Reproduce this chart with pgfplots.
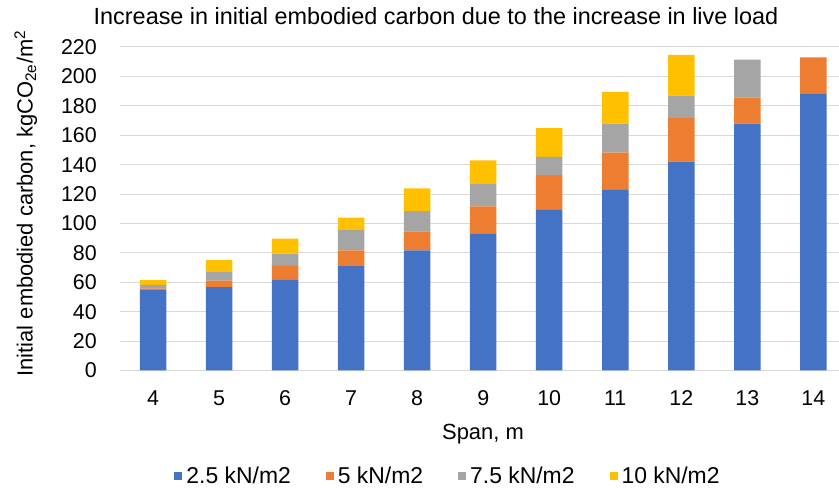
\documentclass[border=0pt]{standalone}
\usepackage{pgfplots}
\pgfplotsset{compat=1.18}
\usepackage{fontspec}
\setmainfont{Liberation Sans}
\definecolor{cBlue}{HTML}{4472C4}
\definecolor{cOrange}{HTML}{ED7D31}
\definecolor{cGray}{HTML}{A5A5A5}
\definecolor{cYellow}{HTML}{FFC000}
\definecolor{gridgray}{HTML}{D9D9D9}
\begin{document}
\begin{tikzpicture}[x=1bp,y=1bp]
\path[use as bounding box] (-120,-123.5) rectangle (719,370.5);
\begin{axis}[
  at={(0,0)}, anchor=south west,
  scale only axis, width=719.8bp, height=323.5bp,
  xmin=3.5, xmax=14.4, ymin=0, ymax=220,
  ybar stacked, bar width=26.5bp,
  xtick={4,5,6,7,8,9,10,11,12,13,14},
  ytick={0,20,...,220},
  axis line style={draw=none}, major tick length=0pt,
  ymajorgrids, grid style={color=gridgray, line width=1bp},
  tick label style={font=\fontsize{21.5}{25}\selectfont},
  /pgf/number format/assume math mode=true,
  xticklabel style={anchor=base, inner sep=0pt, yshift=-35.5bp},
  yticklabel style={anchor=east, inner sep=0pt, xshift=-23bp},
  legend columns=4,
  legend style={at={(0.4557,-0.326)}, anchor=center, draw=none, fill=none,
    font=\fontsize{23}{27}\selectfont, inner sep=0pt,
    /tikz/every even column/.append style={column sep=33bp}},
  legend image code/.code={\fill (0bp,-4bp) rectangle (8bp,4bp);},
]
\addplot[fill=cBlue, draw=none] coordinates {(4,54.6) (5,56.7) (6,61.9) (7,71.0) (8,81.7) (9,93.2) (10,109.3) (11,122.9) (12,142.0) (13,167.8) (14,188.5)};
\addplot[fill=cOrange, draw=none] coordinates {(4,1.2) (5,4.5) (6,9.3) (7,10.7) (8,12.9) (9,18.4) (10,23.6) (11,25.2) (12,29.7) (13,17.7) (14,24.5)};
\addplot[fill=cGray, draw=none] coordinates {(4,2.5) (5,6.2) (6,8.2) (7,13.8) (8,13.8) (9,15.2) (10,12.3) (11,19.7) (12,15.2) (13,25.9) (14,0)};
\addplot[fill=cYellow, draw=none] coordinates {(4,3.2) (5,7.7) (6,10.2) (7,8.4) (8,15.4) (9,16.1) (10,19.7) (11,21.6) (12,27.7) (13,0) (14,0)};
\legend{\hspace{2bp}2.5 kN/m2, \hspace{2bp}5 kN/m2, \hspace{2bp}7.5 kN/m2, \hspace{2bp}10 kN/m2}
\end{axis}
\node[anchor=base, font=\fontsize{23.5}{28}\selectfont] at (316,345.5) {Increase in initial embodied carbon due to the increase in live load};
\node[anchor=base, font=\fontsize{22}{26}\selectfont] at (363,-69.5) {Span, m};
\node[rotate=90, anchor=base, font=\fontsize{22}{26}\selectfont] at (-87.4,167) {Initial embodied carbon, kgCO\textsubscript{2e}/m\textsuperscript{2}};
\end{tikzpicture}
\end{document}
